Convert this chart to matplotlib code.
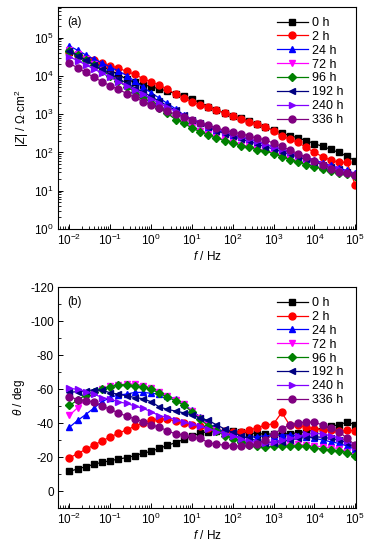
import numpy as np
import matplotlib
matplotlib.use("Agg")
import matplotlib.pyplot as plt
from matplotlib.ticker import FixedLocator, MultipleLocator, NullFormatter, LogFormatterSciNotation

plt.rcParams['font.family'] = ['Liberation Sans', 'DejaVu Sans']
plt.rcParams['mathtext.fontset'] = 'custom'
plt.rcParams['mathtext.rm'] = 'Liberation Sans'
plt.rcParams['mathtext.it'] = 'Liberation Sans:italic'
plt.rcParams['axes.unicode_minus'] = False

# frequency points: 5 per decade from 1e-2 to 1e5
log_f = [-2.0, -1.8, -1.6, -1.4, -1.2, -1.0, -0.8, -0.6, -0.4, -0.2,
         0.0, 0.2, 0.4, 0.6, 0.8, 1.0, 1.2, 1.4, 1.6, 1.8,
         2.0, 2.2, 2.4, 2.6, 2.8, 3.0, 3.2, 3.4, 3.6, 3.8,
         4.0, 4.2, 4.4, 4.6, 4.8, 5.0]

labels = ['0 h', '2 h', '24 h', '72 h', '96 h', '192 h', '240 h', '336 h']
colors = ['#000000', '#ff0000', '#0000ff', '#ff00ff', '#008000', '#000080', '#8000ff', '#800080']
markers = ['s', 'o', '^', 'v', 'D', '<', '>', 'o']
msizes = [5, 5, 5, 5, 4.3, 5, 5, 5]

# log10 |Z|
logZ_0 = [4.62, 4.55, 4.45, 4.36, 4.25, 4.15, 4.03, 3.92, 3.83, 3.77,
          3.72, 3.66, 3.60, 3.54, 3.47, 3.39, 3.30, 3.20, 3.11, 3.03,
          2.96, 2.89, 2.82, 2.74, 2.66, 2.58, 2.51, 2.44, 2.38, 2.31,
          2.23, 2.16, 2.08, 2.00, 1.90, 1.78]
logZ_2 = [4.62, 4.55, 4.48, 4.41, 4.34, 4.27, 4.20, 4.12, 4.04, 3.93,
          3.84, 3.76, 3.65, 3.53, 3.43, 3.32, 3.25, 3.18, 3.10, 3.03,
          2.96, 2.87, 2.80, 2.74, 2.67, 2.56, 2.43, 2.35, 2.26, 2.13,
          2.00, 1.89, 1.80, 1.74, 1.74, 1.15]
logZ_24 = [4.78, 4.67, 4.55, 4.44, 4.34, 4.23, 4.13, 4.01, 3.86, 3.71,
           3.56, 3.42, 3.28, 3.14, 2.98, 2.86, 2.76, 2.66, 2.59, 2.52,
           2.46, 2.40, 2.34, 2.28, 2.21, 2.14, 2.07, 2.00, 1.94, 1.87,
           1.80, 1.73, 1.66, 1.59, 1.53, 1.45]
logZ_72 = [4.68, 4.57, 4.44, 4.30, 4.16, 4.02, 3.88, 3.74, 3.60, 3.46,
           3.32, 3.18, 3.04, 2.89, 2.78, 2.67, 2.57, 2.48, 2.40, 2.34,
           2.27, 2.20, 2.16, 2.10, 2.06, 2.00, 1.92, 1.84, 1.77, 1.71,
           1.65, 1.58, 1.53, 1.49, 1.45, 1.40]
logZ_96 = [4.66, 4.55, 4.42, 4.28, 4.14, 4.00, 3.86, 3.72, 3.58, 3.44,
           3.30, 3.16, 3.02, 2.86, 2.76, 2.64, 2.54, 2.45, 2.37, 2.31,
           2.24, 2.17, 2.13, 2.07, 2.03, 1.97, 1.89, 1.81, 1.74, 1.68,
           1.63, 1.56, 1.51, 1.47, 1.43, 1.38]
logZ_192 = [4.65, 4.53, 4.41, 4.29, 4.17, 4.05, 3.93, 3.81, 3.69, 3.58,
            3.46, 3.34, 3.22, 3.10, 2.98, 2.86, 2.76, 2.66, 2.57, 2.49,
            2.42, 2.35, 2.29, 2.22, 2.15, 2.09, 2.02, 1.95, 1.88, 1.82,
            1.75, 1.68, 1.62, 1.56, 1.50, 1.43]
logZ_240 = [4.50, 4.40, 4.29, 4.18, 4.07, 3.96, 3.85, 3.74, 3.63, 3.52,
            3.40, 3.29, 3.18, 3.07, 2.96, 2.86, 2.77, 2.69, 2.61, 2.54,
            2.47, 2.41, 2.35, 2.29, 2.22, 2.15, 2.08, 2.01, 1.94, 1.86,
            1.78, 1.71, 1.63, 1.56, 1.49, 1.42]
logZ_336 = [4.33, 4.21, 4.09, 3.96, 3.85, 3.74, 3.65, 3.54, 3.44, 3.33,
            3.25, 3.16, 3.08, 3.00, 2.93, 2.85, 2.78, 2.71, 2.64, 2.58,
            2.53, 2.49, 2.43, 2.37, 2.33, 2.24, 2.16, 2.06, 1.97, 1.87,
            1.78, 1.67, 1.58, 1.50, 1.45, 1.40]

# phase angle (deg)
th_0 = [-11.5, -13.0, -14.3, -15.7, -16.9, -17.8, -18.8, -19.6, -20.8, -22.2,
        -23.3, -25.1, -26.8, -28.5, -30.3, -32.3, -34.0, -35.0, -35.5, -35.5,
        -35.3, -34.8, -34.2, -33.8, -33.5, -33.5, -33.5, -33.8, -34.2, -35.0,
        -36.0, -37.0, -38.0, -39.0, -40.5, -39.0]
th_2 = [-19.5, -22.0, -24.5, -27.0, -29.5, -31.8, -34.0, -36.0, -38.0, -40.0,
        -41.6, -42.4, -42.2, -41.2, -40.0, -39.0, -38.0, -37.0, -36.0, -35.2,
        -34.9, -34.8, -35.8, -37.2, -38.8, -39.5, -46.2, -38.6, -38.8, -37.6,
        -36.6, -36.0, -35.6, -35.2, -35.8, -35.5]
th_24 = [-37.5, -41.5, -45.0, -48.8, -52.5, -55.0, -56.5, -57.0, -58.0, -58.0,
         -57.5, -57.0, -56.0, -54.0, -51.0, -47.5, -43.5, -40.0, -37.0, -34.5,
         -32.5, -31.5, -31.5, -32.0, -32.5, -32.5, -33.0, -33.0, -32.5, -32.0,
         -31.0, -30.0, -29.0, -28.0, -26.5, -24.5]
th_72 = [-44.5, -49.0, -54.0, -57.5, -60.0, -61.5, -62.5, -63.0, -63.0, -62.0,
         -60.5, -58.5, -56.0, -53.5, -51.0, -47.0, -43.0, -39.0, -36.0, -33.0,
         -31.0, -29.5, -28.5, -28.0, -27.5, -27.5, -27.5, -27.5, -27.5, -27.0,
         -26.5, -26.0, -25.5, -25.0, -23.0, -20.5]
th_96 = [-50.3, -53.5, -56.5, -58.5, -60.0, -61.3, -62.4, -62.5, -62.0, -61.0,
         -59.8, -57.6, -55.2, -53.0, -50.6, -46.5, -42.2, -38.3, -35.3, -32.6,
         -30.6, -28.7, -27.0, -26.2, -25.8, -26.2, -26.5, -26.5, -26.5, -26.2,
         -25.5, -24.6, -24.2, -23.6, -22.6, -20.3]
th_192 = [-58.0, -58.5, -58.8, -59.6, -59.2, -57.8, -56.9, -56.0, -55.0, -54.3,
          -52.5, -49.5, -48.0, -47.0, -46.0, -44.7, -43.0, -41.5, -39.0, -36.5,
          -34.5, -32.5, -31.0, -29.5, -28.5, -28.5, -29.0, -30.0, -31.0, -31.5,
          -32.0, -31.5, -31.0, -30.0, -28.5, -25.0]
th_240 = [-60.4, -59.8, -58.5, -57.0, -55.0, -53.9, -52.5, -51.5, -50.0, -48.6,
          -46.7, -44.3, -43.3, -42.0, -40.6, -39.3, -38.0, -36.7, -35.0, -33.8,
          -32.4, -30.6, -29.4, -28.6, -28.5, -29.0, -30.0, -31.0, -32.3, -33.3,
          -34.0, -33.5, -32.5, -31.2, -29.3, -26.0]
th_336 = [-55.5, -53.8, -53.0, -52.5, -50.0, -48.0, -46.0, -44.0, -42.5, -40.8,
          -39.0, -37.5, -35.5, -33.5, -33.0, -31.5, -31.0, -28.5, -27.5, -27.0,
          -26.5, -26.3, -26.8, -27.8, -30.0, -33.5, -36.5, -39.0, -40.0, -40.6,
          -40.5, -38.8, -37.0, -35.0, -31.0, -27.0]

x_ticks_exp = [-2, -1, 0, 1, 2, 3, 4, 5]
y1_ticks_exp = [0, 1, 2, 3, 4, 5]

logZ_all = [logZ_0, logZ_2, logZ_24, logZ_72, logZ_96, logZ_192, logZ_240, logZ_336]
th_all = [th_0, th_2, th_24, th_72, th_96, th_192, th_240, th_336]

freq = 10.0 ** np.array(log_f)

W, H = 373, 543
fig = plt.figure(figsize=(W / 100, H / 100), dpi=100)
ax1 = fig.add_axes([58 / W, 1 - 229 / H, 298 / W, 222 / H])
ax2 = fig.add_axes([58 / W, 1 - 508 / H, 298 / W, 221 / H])

FS = 8.5
LFS = 9
for i in range(8):
    ax1.plot(freq, 10.0 ** np.array(logZ_all[i]), color=colors[i], marker=markers[i],
             ms=msizes[i], lw=0.9, label=labels[i], mec=colors[i])
    ax2.plot(freq, th_all[i], color=colors[i], marker=markers[i],
             ms=msizes[i], lw=0.9, label=labels[i], mec=colors[i])


def minor_positions(lo, hi):
    out = []
    for e in range(lo, hi + 1):
        for s in range(2, 10):
            out.append(s * 10.0 ** e)
    return out


xlim = (10 ** -2.28, 10 ** 5.02)
for ax in (ax1, ax2):
    ax.set_xscale('log')
    ax.set_xlim(*xlim)
    ax.xaxis.set_major_locator(FixedLocator([10.0 ** e for e in x_ticks_exp]))
    ax.xaxis.set_major_formatter(LogFormatterSciNotation())
    ax.xaxis.set_minor_locator(FixedLocator([v for v in minor_positions(-3, 4) if xlim[0] < v < xlim[1]]))
    ax.xaxis.set_minor_formatter(NullFormatter())
    ax.tick_params(which='both', direction='in', top=False, right=False,
                   labelsize=FS, pad=3)
    ax.tick_params(which='major', length=3.5, width=0.7)
    ax.tick_params(which='minor', length=2, width=0.6)
    for s in ax.spines.values():
        s.set_linewidth(0.8)
    ax.set_xlabel('$f$ / Hz', fontsize=FS, labelpad=1)
    ax.legend(loc='upper right', frameon=False, fontsize=LFS, handlelength=2.5,
              labelspacing=0.15, handletextpad=0.3, borderaxespad=0.4,
              bbox_to_anchor=(0.99, 1.0))

ax1.set_yscale('log')
ax1.set_ylim(1, 10 ** 5.8)
ax1.yaxis.set_major_locator(FixedLocator([10.0 ** e for e in y1_ticks_exp]))
ax1.yaxis.set_major_formatter(LogFormatterSciNotation())
ax1.yaxis.set_minor_locator(FixedLocator([v for v in minor_positions(0, 5) if v < 10 ** 5.8]))
ax1.yaxis.set_minor_formatter(NullFormatter())
ax1.set_ylabel('|$Z$| / Ω·cm$^2$', fontsize=FS, labelpad=2)
ax1.text(0.03, 0.96, '(a)', transform=ax1.transAxes, fontsize=FS, va='top', ha='left')

ax2.set_ylim(10, -120)
ax2.yaxis.set_major_locator(MultipleLocator(20))
ax2.yaxis.set_minor_locator(MultipleLocator(10))
ax2.set_ylabel('$θ$ / deg', fontsize=FS, labelpad=2)
ax2.text(0.03, 0.96, '(b)', transform=ax2.transAxes, fontsize=FS, va='top', ha='left')

fig.savefig('out.png', dpi=100)
